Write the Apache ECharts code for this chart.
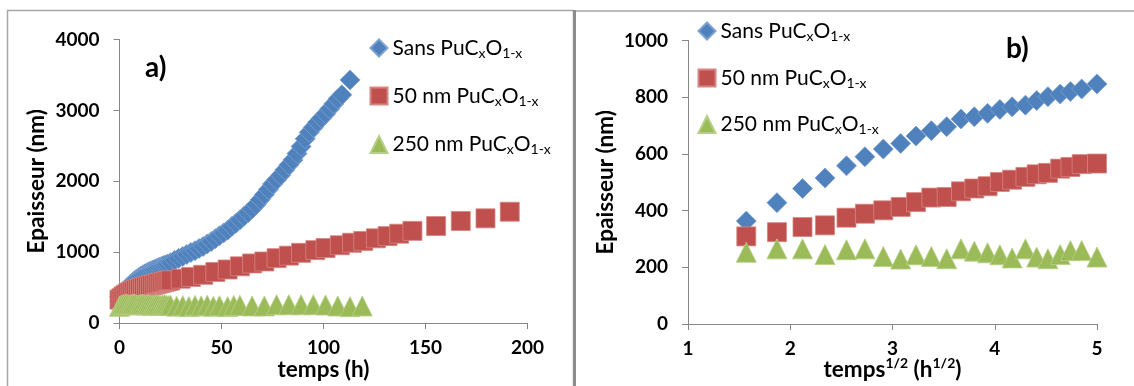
<!DOCTYPE html>
<html><head><meta charset="utf-8">
<script src="https://cdn.jsdelivr.net/npm/echarts@6/dist/echarts.min.js"></script>
<style>html,body{margin:0;padding:0;background:#fff}#c{width:1134px;height:386px}</style>
</head><body><div id="c"></div>
<script>
// ---------- DATA ----------
const seriesNames = ['Sans PuCxO1-x', '50 nm PuCxO1-x', '250 nm PuCxO1-x'];
const legendRich = ['{n|Sans PuC}{s|x}{n|O}{s|1-x}', '{n|50 nm PuC}{s|x}{n|O}{s|1-x}', '{n|250 nm PuC}{s|x}{n|O}{s|1-x}'];

// Panel a) : thickness (nm) vs time (h)
const aBlueT = [0,1,2.5,3.5,4.5,5.5,6.5,7.5,8.5,9.5,10.5,11.5,12.5,13.5,14.5,15.5,16.5,17.5,18.5,19.5,20.5,21.5,22.5,23.5,25,
  27,29,31,33,35,37,39,41,43,45,47,49,51,53,55,57,59,61,63,65,67,69,71,73,75,77,79,81,83,85,87,89,91,93,95,97,99,101,103,105,107,109,113];
const aBlueV = [370,400,445,485,520,550,575,600,622,642,662,680,695,710,725,738,750,762,774,786,798,810,820,832,850,
  885,912,940,968,995,1020,1050,1080,1115,1150,1190,1230,1270,1310,1360,1405,1455,1505,1555,1610,1670,1740,1810,1885,1960,2020,2085,2160,2230,2300,2390,2490,2600,2690,2760,2830,2890,2950,3020,3090,3160,3220,3430];

const aRedT = [0,1,2,3,4,5,6,7,8,9,10,11,12,13,14,15,16,17,18,19,20,21,22,23,24,25,30,35,41,47,53,59,65,71,77,83,89,96,101,108,114,119.5,125.7,131.4,137.1,143.6,155.2,167.3,179.4,191.3];
const aRedV = [330,350,375,395,415,430,445,455,465,475,485,495,505,512,520,527,535,542,550,557,565,572,580,587,595,602,625,650,680,720,755,800,840,868,915,950,990,1028,1058,1097,1132,1158,1195,1226,1260,1300,1368,1439,1477,1570];

const aGreenT = [0,1,2,3,4,5,6,7,8,9,10,11,12,13,14,15,16,17,18,19,20,21,22,23,24,25,28,31,34,37,40,43,46,49,53,56,59,65,71,77,83,89,95,101,107,113,119];
const aGreenV = [235,255,265,270,262,258,266,270,262,255,262,268,260,255,262,258,250,255,262,258,250,256,262,255,248,252,238,245,232,248,240,250,236,245,232,248,250,240,240,258,258,258,258,254,240,230,240];

// Panel b) : thickness (nm) vs sqrt(time) (h^1/2)
const bX = [1.57,1.87,2.12,2.34,2.55,2.73,2.91,3.08,3.23,3.38,3.53,3.67,3.80,3.93,4.05,4.17,4.30,4.41,4.52,4.64,4.74,4.85,5.00];
const bBlue = [363,428,478,515,558,590,617,637,663,682,696,723,731,743,757,766,772,788,802,811,820,829,847];
const bRed = [309,324,342,348,375,389,401,413,430,446,448,468,478,486,501,509,519,528,533,548,554,564,566];
const bGreen = [253,265,265,245,262,265,238,229,244,238,230,265,257,251,244,233,265,236,230,245,259,259,236];

// axis ranges [min, max, interval]
const aXAxis = [0, 200, 50], aYAxis = [0, 4000, 1000];
const bXAxis = [1, 5, 1], bYAxis = [0, 1000, 200];

// ---------- STYLE ----------
const FONT = 'Lato';
const colors = ['#4F81BD', '#C0504D', '#9BBB59'];
const borders = ['#7EA2D0', '#D68583', '#B6CF86'];
const symbols = ['diamond', 'rect', 'triangle'];
const sizes = [20, 19, 20];
const TICK_FS = 19, NAME_FS = 22.5, LEG_FS = 21;

const pairs = (xs, ys) => xs.map((x, i) => [x, ys[i]]);

function axisCommon(r, gridIndex) {
  return {
    gridIndex, type: 'value', min: r[0], max: r[1], interval: r[2],
    axisLine: {show: true, onZero: false, lineStyle: {color: '#868686', width: 1}},
    axisTick: {show: true, inside: false, length: 6, lineStyle: {color: '#868686'}},
    splitLine: {show: false},
    nameMoveOverlap: false,
    axisLabel: {fontFamily: FONT, fontWeight: 'bold', fontSize: TICK_FS, color: '#000', formatter: v => String(v)},
    nameTextStyle: {fontFamily: FONT, fontWeight: 'bold', fontSize: NAME_FS, color: '#000'}
  };
}

const xA = Object.assign(axisCommon(aXAxis, 0), {name: 'temps (h)', nameLocation: 'middle', nameGap: 35});
xA.axisLabel.margin = 15;
const xB = Object.assign(axisCommon(bXAxis, 1), {
  name: '{n|temps}{p|1/2}{n| (h}{p|1/2}{n|)}', nameLocation: 'middle', nameGap: 32});
xB.axisLabel.margin = 15;
xB.nameTextStyle.rich = {
  n: {fontFamily: FONT, fontWeight: 'bold', fontSize: NAME_FS, lineHeight: 27, verticalAlign: 'middle', color: '#000'},
  p: {fontFamily: FONT, fontWeight: 'bold', fontSize: 14, lineHeight: 14, verticalAlign: 'top', color: '#000'}
};
const yA = Object.assign(axisCommon(aYAxis, 0), {name: 'Epaisseur (nm)', nameLocation: 'middle', nameGap: 71});
yA.axisLabel.margin = 20;
const yB = Object.assign(axisCommon(bYAxis, 1), {name: 'Epaisseur (nm)', nameLocation: 'middle', nameGap: 71});
yB.axisLabel.margin = 20;

function mkSeries(prefix, data, gi) {
  return data.map((d, i) => ({
    name: prefix + seriesNames[i], type: 'scatter', xAxisIndex: gi, yAxisIndex: gi,
    data: d, symbol: symbols[i], symbolSize: sizes[i], clip: false,
    itemStyle: {color: colors[i], borderColor: borders[i], borderWidth: 0.8, opacity: 1},
    emphasis: {disabled: true}, animation: false
  }));
}

const series = [].concat(
  mkSeries('a:', [pairs(aBlueT, aBlueV), pairs(aRedT, aRedV), pairs(aGreenT, aGreenV)], 0),
  mkSeries('b:', [pairs(bX, bBlue), pairs(bX, bRed), pairs(bX, bGreen)], 1)
);

const richLegend = {
  n: {fontFamily: FONT, fontSize: LEG_FS, lineHeight: 24, verticalAlign: 'middle', color: '#000'},
  s: {fontFamily: FONT, fontSize: 14, lineHeight: 14, verticalAlign: 'bottom', color: '#000'}
};
// one legend component per item so that each row sits where the reference puts it
function mkLegendItem(prefix, idx, left, centerY) {
  return {
    orient: 'vertical', left, top: centerY - 12, itemWidth: 17, itemHeight: 17, itemGap: 0,
    selectedMode: false, padding: 0,
    data: [prefix + seriesNames[idx]],
    formatter: name => legendRich[seriesNames.indexOf(name.slice(2))],
    textStyle: {fontFamily: FONT, fontSize: LEG_FS, color: '#000', rich: richLegend}
  };
}
const legALeft = 369.5, legACenters = [49.5, 97.5, 146];
const legBLeft = 697.5, legBCenters = [32.5, 79.5, 126];
const legends = [0, 1, 2].map(i => mkLegendItem('a:', i, legALeft, legACenters[i]))
  .concat([0, 1, 2].map(i => mkLegendItem('b:', i, legBLeft, legBCenters[i])));

const option = {
  animation: false,
  backgroundColor: '#fff',
  grid: [
    {left: 119.5, top: 39.5, width: 408, height: 283.5, containLabel: false, outerBoundsMode: 'none'},
    {left: 688, top: 40.5, width: 409, height: 283.5, containLabel: false, outerBoundsMode: 'none'}
  ],
  xAxis: [xA, xB],
  yAxis: [yA, yB],
  legend: legends,
  title: [
    {text: 'a)', left: 145, top: 54, padding: 0, textStyle: {fontFamily: FONT, fontWeight: 'bold', fontSize: 28, color: '#000'}},
    {text: 'b)', left: 1006, top: 35, padding: 0, textStyle: {fontFamily: FONT, fontWeight: 'bold', fontSize: 28, color: '#000'}}
  ],
  graphic: [
    {type: 'rect', shape: {x: 7.5, y: 10.5, width: 566, height: 400}, style: {fill: 'none', stroke: '#A6A6A6', lineWidth: 1.5}, silent: true},
    {type: 'line', shape: {x1: 576, y1: 11, x2: 1140, y2: 11}, style: {stroke: '#A6A6A6', lineWidth: 1.5}, silent: true},
    {type: 'line', shape: {x1: 574.5, y1: 10, x2: 574.5, y2: 390}, style: {stroke: '#8C8C8C', lineWidth: 3}, silent: true}
  ],
  series
};

const chart = echarts.init(document.getElementById('c'), null, {renderer: 'canvas'});
chart.setOption(option);
</script>
</body></html>
